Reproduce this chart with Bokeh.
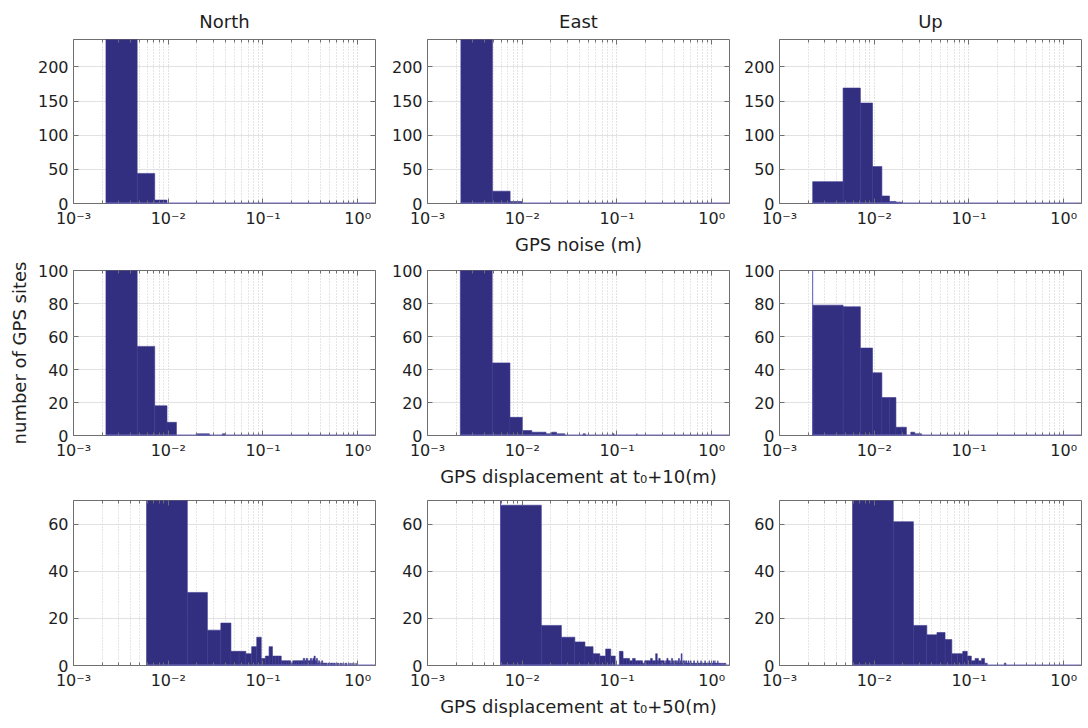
import numpy as np
from bokeh.plotting import figure
from bokeh.layouts import gridplot
from bokeh.models import Range1d, FixedTicker, LogAxis, LinearAxis, CustomJSTickFormatter
from bokeh.embed import file_html
from bokeh.resources import INLINE

# ---------------- data ----------------
components = ["North", "East", "Up"]
row_xlabels = ["GPS noise (m)",
               "GPS displacement at t\u2080+10(m)",
               "GPS displacement at t\u2080+50(m)"]
y_label = "number of GPS sites"

x_tick_values = [1e-3, 1e-2, 1e-1, 1e0]
x_min, x_max = 1e-3, 1.54
y_max = [240, 100, 70]
y_ticks = [[0, 50, 100, 150, 200],
           [0, 20, 40, 60, 80, 100],
           [0, 20, 40, 60]]

# Row 1: GPS noise (linear bins: first left edge, bin width, counts)
noise_north_start, noise_north_width = 0.0022, 0.0025
noise_north_counts = [369, 44, 5]
noise_east_start, noise_east_width = 0.00225, 0.0026
noise_east_counts = [397, 18, 3]
noise_up_start, noise_up_width = 0.00224, 0.00245
noise_up_counts = [32, 169, 147, 54, 11, 3, 2]

# Row 2: displacement at t0+10
t10_north_start, t10_north_width = 0.0022, 0.0025
t10_north_counts = [334, 54, 18, 8, 0, 0, 0, 1, 1, 1, 0, 0, 0, 0, 1]
t10_east_start, t10_east_width = 0.00222, 0.0026
t10_east_counts = [348, 44, 11, 3, 2, 2, 1, 2, 1, 1,
                   0, 0, 0, 0, 0, 0, 1, 0, 0, 0,
                   0, 0, 0, 0, 0, 0, 0, 0, 0, 0,
                   0, 0, 0, 0, 1, 0, 0, 0, 0, 0,
                   0, 0, 0, 0, 0, 0, 0, 0, 0, 0,
                   0, 0, 0, 0, 0, 0, 0, 0, 0, 0,
                   0, 1]
t10_up_start, t10_up_width = 0.00224, 0.00245
t10_up_counts = [79, 78, 53, 38, 23, 23, 5, 5, 0, 2, 1, 1]
t10_up_zero_bin = 110

# Row 3: displacement at t0+50
t50_north_start, t50_north_width = 0.0059, 0.01
t50_north_counts = [190, 31, 15, 18, 6, 6, 5, 8, 12, 3,
                    4, 8, 4, 4, 4, 2, 2, 2, 2, 1,
                    2, 2, 2, 2, 2, 2, 3, 2, 3, 2,
                    2, 3, 2, 3, 4, 2, 3, 1, 2, 1,
                    1, 2, 1, 1, 1, 1, 1, 0, 1, 1,
                    0, 1, 1, 1, 0, 1, 1, 0, 1, 0,
                    1, 0, 1, 0, 0, 1, 0, 1, 0, 0,
                    1, 0, 0, 1, 0, 1, 0, 0, 0, 1,
                    0, 0, 1, 0, 0, 0, 1, 0, 0, 0,
                    1, 0, 0, 0, 0, 1, 0, 0, 0, 0]
t50_east_start, t50_east_width = 0.0059, 0.01
t50_east_counts = [68, 17, 12, 10, 8, 5, 4, 7, 4, 0,
                   6, 3, 3, 2, 3, 2, 2, 2, 1, 2,
                   2, 2, 3, 2, 2, 5, 2, 3, 2, 2,
                   2, 1, 2, 3, 2, 2, 1, 3, 2, 1,
                   2, 2, 1, 2, 3, 1, 2, 5, 1, 2,
                   1, 2, 1, 2, 1, 1, 2, 1, 1, 2,
                   1, 1, 0, 1, 2, 1, 1, 0, 1, 1,
                   2, 1, 1, 1, 0, 1, 2, 1, 0, 1,
                   1, 0, 1, 1, 2, 1, 0, 1, 1, 0,
                   1, 1, 0, 2, 1, 0, 1, 1, 0, 1,
                   1, 0, 1, 2, 1, 0, 1, 2, 1, 0,
                   1, 0, 1, 1, 0, 2, 1, 0, 0, 1,
                   0, 1, 0, 1, 0, 0, 1, 0, 1, 0,
                   0, 1, 0, 0, 1, 0, 1, 0, 0, 1]
t50_east_zero_bin = 170
t50_up_start, t50_up_width = 0.0059, 0.01
t50_up_counts = [270, 61, 17, 13, 14, 11, 5, 5, 6, 4,
                 2, 3, 2, 3, 1, 0, 0, 0, 0, 0,
                 0, 0, 0, 1]

panels = [
    [(noise_north_start, noise_north_width, noise_north_counts, None),
     (noise_east_start, noise_east_width, noise_east_counts, None),
     (noise_up_start, noise_up_width, noise_up_counts, None)],
    [(t10_north_start, t10_north_width, t10_north_counts, None),
     (t10_east_start, t10_east_width, t10_east_counts, None),
     (t10_up_start, t10_up_width, t10_up_counts, t10_up_zero_bin)],
    [(t50_north_start, t50_north_width, t50_north_counts, None),
     (t50_east_start, t50_east_width, t50_east_counts, t50_east_zero_bin),
     (t50_up_start, t50_up_width, t50_up_counts, None)],
]

# ---------------- styling ----------------
FONT = "DejaVu Sans"
TXT = "#1e1e1e"
BAR = "#322e80"
EDGE = "#3d3990"
BASE = "#7470c4"
FRAME = "#6f6f6f"

col_borders = [(73, 12), (40, 11), (37, 5)]                  # left, right
row_borders = [(39, 53, 164), (13, 55, 165), (10, 56, 165)]  # top, bottom, frame height

minor_x = [m * 10.0 ** e for e in range(-3, 1) for m in range(2, 10) if m * 10.0 ** e <= x_max]

SUP_JS = """
const sup = {"-": "\u207b", "0": "\u2070", "1": "\u00b9", "2": "\u00b2", "3": "\u00b3"};
const e = Math.round(Math.log10(tick));
let s = "";
for (const c of String(e)) { s += sup[c]; }
return "10" + s;
"""
EMPTY_JS = "return '';"


def make_panel(r, c):
    start, width, counts, zero_bin = panels[r][c]
    bl, br = col_borders[c]
    bt, bb, fh = row_borders[r]
    p = figure(x_axis_type="log",
               x_range=Range1d(x_min, x_max), y_range=Range1d(0, y_max[r]),
               frame_width=302, frame_height=fh,
               min_border_left=bl, min_border_right=br,
               min_border_top=bt, min_border_bottom=bb,
               toolbar_location=None, output_backend="svg",
               title=components[c] if r == 0 else None)
    p.background_fill_color = "white"
    p.border_fill_color = "white"
    p.outline_line_color = FRAME
    p.outline_line_width = 1

    if r == 0:
        p.title.text_font = FONT
        p.title.text_font_size = "18px"
        p.title.text_font_style = "normal"
        p.title.text_color = TXT
        p.title.align = "center"
        p.title.standoff = 16

    xa = p.xaxis[0]
    xa.ticker = FixedTicker(ticks=x_tick_values, minor_ticks=minor_x)
    xa.formatter = CustomJSTickFormatter(code=SUP_JS)
    ya = p.yaxis[0]
    ya.ticker = FixedTicker(ticks=y_ticks[r])
    for ax in (xa, ya):
        ax.axis_line_color = None
        ax.major_tick_in = 5
        ax.major_tick_out = 0
        ax.major_tick_line_color = FRAME
        ax.major_label_text_font = FONT
        ax.major_label_text_font_size = "16px"
        ax.major_label_text_color = TXT
        ax.major_label_standoff = 5
        ax.axis_label_text_font = FONT
        ax.axis_label_text_font_size = "18px"
        ax.axis_label_text_font_style = "normal"
        ax.axis_label_text_color = TXT
    xa.minor_tick_in = 3
    xa.minor_tick_out = 0
    xa.minor_tick_line_color = FRAME
    ya.minor_tick_line_color = None

    if c == 1:
        xa.axis_label = row_xlabels[r]
        xa.axis_label_standoff = 3
    if c == 0 and r == 1:
        ya.axis_label = y_label
        ya.axis_label_standoff = 5

    top = LogAxis(ticker=FixedTicker(ticks=x_tick_values, minor_ticks=minor_x),
                  formatter=CustomJSTickFormatter(code=EMPTY_JS),
                  axis_line_color=None, major_tick_in=5, major_tick_out=0,
                  minor_tick_in=3, minor_tick_out=0,
                  major_tick_line_color=FRAME, minor_tick_line_color=FRAME,
                  major_label_standoff=0)
    p.add_layout(top, "above")
    right = LinearAxis(ticker=FixedTicker(ticks=y_ticks[r]),
                       formatter=CustomJSTickFormatter(code=EMPTY_JS),
                       axis_line_color=None, major_tick_in=5, major_tick_out=0,
                       minor_tick_line_color=None, major_tick_line_color=FRAME,
                       major_label_standoff=0)
    p.add_layout(right, "right")

    p.xgrid.grid_line_color = "#c4c4c4"
    p.xgrid.grid_line_dash = "1 2"
    p.xgrid.minor_grid_line_color = "#cccccc"
    p.xgrid.minor_grid_line_dash = "1 2"
    p.ygrid.grid_line_color = "#e2e2e2"

    edges = start + width * np.arange(len(counts) + 1)
    cnt = np.array(counts)
    nz = cnt > 0
    p.quad(left=edges[:-1][nz], right=edges[1:][nz], bottom=0, top=cnt[nz],
           fill_color=BAR, line_color=EDGE, line_width=0.6)
    p.segment(x0=[edges[0]], y0=[0], x1=[x_max], y1=[0], line_color=BASE, line_width=2)
    if zero_bin:
        p.segment(x0=[edges[0]], y0=[0], x1=[edges[0]], y1=[zero_bin],
                  line_color="#5a56b5", line_width=1)
    return p


figs = [[make_panel(r, c) for c in range(3)] for r in range(3)]
grid = gridplot(figs, toolbar_location=None)
open("out.html", "w").write(file_html(grid, INLINE))
